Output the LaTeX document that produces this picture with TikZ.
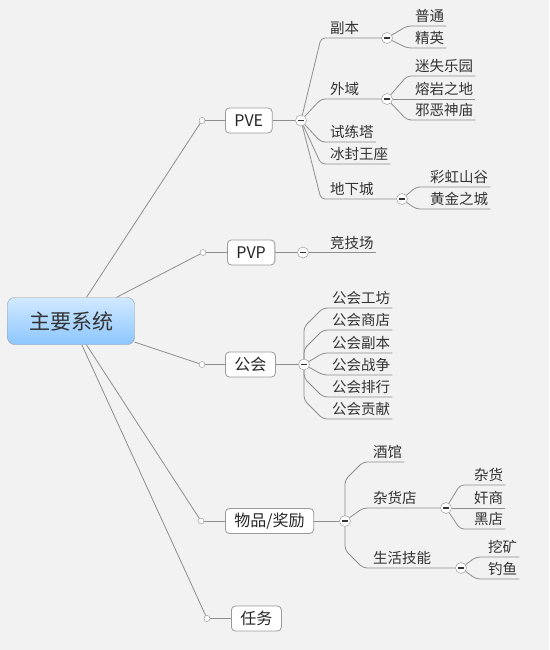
\documentclass[tikz,border=0pt]{standalone}
\usepackage{fontspec}
\setmainfont{Noto Sans CJK SC}
\definecolor{bg}{HTML}{F2F2F2}
\definecolor{linegray}{HTML}{8E8E8E}
\definecolor{boxgray}{HTML}{9A9A9A}
\definecolor{rootlight}{HTML}{D2E9FF}
\definecolor{rootdark}{HTML}{8CC6FF}
\definecolor{txt}{HTML}{333333}

\begin{document}
\begin{tikzpicture}[x=1pt,y=-1pt]
        \tikzstyle{root}=[draw=boxgray, rounded corners=7pt, top color=rootlight, bottom color=rootdark, minimum width=127pt, minimum height=47pt, font=\fontsize{21}{24}\selectfont, text=txt]
        \tikzstyle{topic}=[draw=boxgray, thick, rounded corners=4pt, fill=white, minimum height=25pt, inner xsep=9pt, font=\fontsize{16}{18}\selectfont, text=black!85, anchor=west]
        \tikzstyle{dot}=[circle, draw=linegray, fill=white, minimum size=6pt, inner sep=0pt]
        \tikzstyle{fold}=[circle, draw=linegray, fill=white, minimum size=11pt, inner sep=0pt, path picture={\draw[txt, line width=1.1pt] ([xshift=-2.6pt]path picture bounding box.center) -- ([xshift=2.6pt]path picture bounding box.center);}]
        \tikzstyle{leaf}=[anchor=south west, inner xsep=2pt, inner ysep=2.5pt, text height=11pt, text depth=1.5pt, font=\fontsize{14.5}{16}\selectfont, text=txt]
        \tikzstyle{edge}=[draw=linegray, line width=0.8pt, rounded corners=4pt]

        \path[use as bounding box, fill=bg] (0,0) rectangle (549,650);

       \begin{scope}

         % centre and main branches
         \node [root] (root) at (71,321) {主要系统};

         \node [dot] (pvedot) at (202,120.5) {};
         \node [topic] (pve) at (225,120.5) {PVE};
         \node [fold] (pvefold) at (301,120.5) {};

         \node [dot] (pvpdot) at (203,252.5) {};
         \node [topic] (pvp) at (227,252.5) {PVP};
         \node [fold] (pvpfold) at (303,252.5) {};

         \node [dot] (guilddot) at (202,364.5) {};
         \node [topic] (guild) at (225,364.5) {公会};
         \node [fold] (guildfold) at (304,364.5) {};

         \node [dot] (itemdot) at (201,521) {};
         \node [topic] (item) at (225,521) {物品/奖励};
         \node [fold] (itemfold) at (345,521) {};

         \node [dot] (taskdot) at (207,618.5) {};
         \node [topic] (task) at (231,618.5) {任务};

         % PVE
         \node [leaf] (fuben) at (328,38) {副本};
         \node [leaf] (waiyu) at (328,99) {外域};
         \node [leaf] (shilian) at (328,142) {试练塔};
         \node [leaf] (bingfeng) at (328,164) {冰封王座};
         \node [leaf] (dixia) at (328,199) {地下城};
         \node [fold] (fubenfold) at (387,38) {};
         \node [fold] (waiyufold) at (387,99) {};
         \node [fold] (dixiafold) at (402,199) {};

         \node [leaf] (putong) at (413,26) {普通};
         \node [leaf] (jingying) at (413,48) {精英};
         \node [leaf] (mishi) at (413,76) {迷失乐园};
         \node [leaf] (rongyan) at (413,99) {熔岩之地};
         \node [leaf] (xiee) at (413,120) {邪恶神庙};
         \node [leaf] (caihong) at (428,187) {彩虹山谷};
         \node [leaf] (huangjin) at (428,209) {黄金之城};

         % PVP
         \node [leaf] (jingji) at (328,252.5) {竞技场};

         % guild
         \node [leaf] (gh1) at (330,308) {公会工坊};
         \node [leaf] (gh2) at (330,330) {公会商店};
         \node [leaf] (gh3) at (330,353) {公会副本};
         \node [leaf] (gh4) at (330,375) {公会战争};
         \node [leaf] (gh5) at (330,397) {公会排行};
         \node [leaf] (gh6) at (330,419) {公会贡献};

         % items
         \node [leaf] (jiuguan) at (371,462) {酒馆};
         \node [leaf] (zahuodian) at (371,508) {杂货店};
         \node [leaf] (shenghuo) at (371,568) {生活技能};
         \node [fold] (zahuofold) at (446,508) {};
         \node [fold] (shenghuofold) at (461,568) {};

         \node [leaf] (zahuo) at (472,485) {杂货};
         \node [leaf] (jianshang) at (472,508) {奸商};
         \node [leaf] (heidian) at (472,529) {黑店};
         \node [leaf] (wakuang) at (486,557) {挖矿};
         \node [leaf] (diaoyu) at (486,579) {钓鱼};

         % connectors
         \path[edge] (root) edge (pvedot) edge (pvpdot) edge (guilddot) edge (itemdot) edge (taskdot);
         \path[edge] (pvedot) edge (pve) (pve) edge (pvefold);
         \path[edge] (pvpdot) edge (pvp) (pvp) edge (pvpfold);
         \path[edge] (guilddot) edge (guild) (guild) edge (guildfold);
         \path[edge] (itemdot) edge (item) (item) edge (itemfold);
         \path[edge] (taskdot) edge (task);

         \draw[edge] (pvefold) -- ([xshift=-7pt]fuben.south west) -- (fubenfold);
         \draw[edge] (pvefold) -- ([xshift=-7pt]waiyu.south west) -- (waiyufold);
         \draw[edge] (pvefold) -- ([xshift=-7pt]shilian.south west) -- (shilian.south east);
         \draw[edge] (pvefold) -- ([xshift=-7pt]bingfeng.south west) -- (bingfeng.south east);
         \draw[edge] (pvefold) -- ([xshift=-7pt]dixia.south west) -- (dixiafold);

         \draw[edge] (fubenfold) -- ([xshift=-6pt]putong.south west) -- (putong.south east);
         \draw[edge] (fubenfold) -- ([xshift=-6pt]jingying.south west) -- (jingying.south east);
         \draw[edge] (waiyufold) -- ([xshift=-6pt]mishi.south west) -- (mishi.south east);
         \draw[edge] (waiyufold) -- (rongyan.south east);
         \draw[edge] (waiyufold) -- ([xshift=-6pt]xiee.south west) -- (xiee.south east);
         \draw[edge] (dixiafold) -- ([xshift=-12pt]caihong.south west) -- (caihong.south east);
         \draw[edge] (dixiafold) -- ([xshift=-12pt]huangjin.south west) -- (huangjin.south east);

         \draw[edge] (pvpfold) -- (jingji.south east);

         \draw[edge] (guildfold) -- (304,327) -- ([xshift=-7pt]gh1.south west) -- (gh1.south east);
         \draw[edge] (guildfold) -- (304,349) -- ([xshift=-7pt]gh2.south west) -- (gh2.south east);
         \draw[edge] (guildfold) -- ([xshift=-7pt]gh3.south west) -- (gh3.south east);
         \draw[edge] (guildfold) -- ([xshift=-7pt]gh4.south west) -- (gh4.south east);
         \draw[edge] (guildfold) -- (304,378) -- ([xshift=-7pt]gh5.south west) -- (gh5.south east);
         \draw[edge] (guildfold) -- (304,400) -- ([xshift=-7pt]gh6.south west) -- (gh6.south east);

         \draw[edge] (itemfold) -- (345,480) -- ([xshift=-8pt]jiuguan.south west) -- (jiuguan.south east);
         \draw[edge] (itemfold) -- ([xshift=-8pt]zahuodian.south west) -- (zahuofold);
         \draw[edge] (itemfold) -- (345,550) -- ([xshift=-8pt]shenghuo.south west) -- (shenghuofold);

         \draw[edge] (zahuofold) -- ([xshift=-12pt]zahuo.south west) -- (zahuo.south east);
         \draw[edge] (zahuofold) -- (jianshang.south east);
         \draw[edge] (zahuofold) -- ([xshift=-12pt]heidian.south west) -- (heidian.south east);
         \draw[edge] (shenghuofold) -- ([xshift=-10pt]wakuang.south west) -- (wakuang.south east);
         \draw[edge] (shenghuofold) -- ([xshift=-10pt]diaoyu.south west) -- (diaoyu.south east);

        \end{scope}
      \end{tikzpicture}
\end{document}
